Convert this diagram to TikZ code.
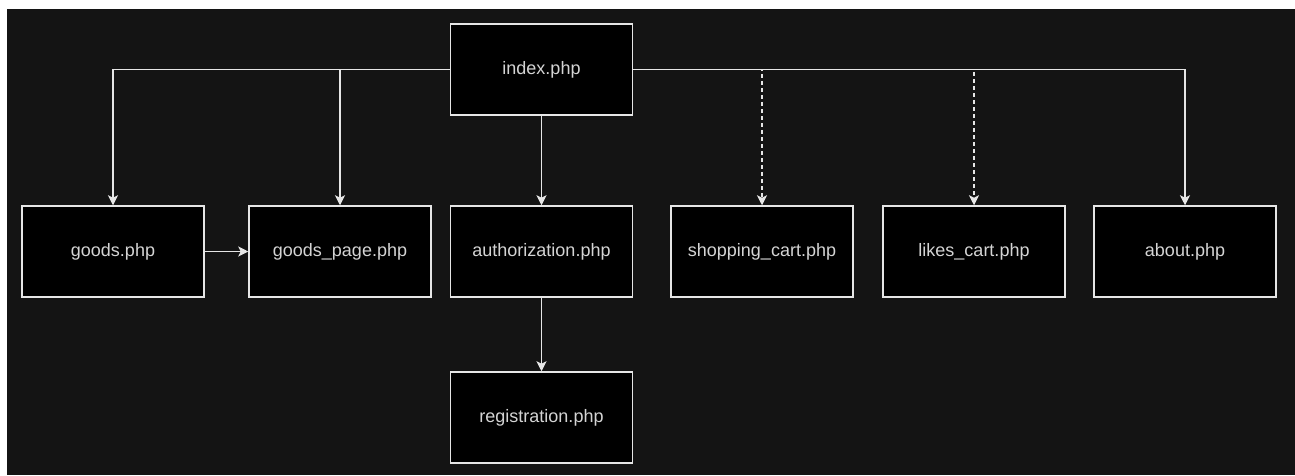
\documentclass[tikz,border=0pt]{standalone}
\usepackage{fontspec}
\setmainfont{Liberation Sans}
\usetikzlibrary{arrows.meta}
\definecolor{bg}{HTML}{141414}
\definecolor{edge}{HTML}{E6E6E6}
\definecolor{txt}{HTML}{D4D4D4}

\begin{document}
\begin{tikzpicture}[x=1pt,y=-1pt,line width=1.5pt,>={Stealth[length=10pt,width=10pt,inset=2.5pt]}]
  \def\w{182}
  \def\h{91}

\tikzstyle{page}=[rectangle,draw=edge,fill=black,text=txt,minimum width=\w pt,minimum height=\h pt,inner sep=0pt,font=\fontsize{18}{21}\selectfont]
\tikzstyle{link}=[->,draw=edge]
\tikzstyle{maybe}=[->,draw=edge,dash pattern=on 4pt off 3pt]

\useasboundingbox (0,0) rectangle (1295,475);
\fill[bg] (7,9) rectangle (1295,475);

\node[page] (index) at (541.5,69.5) {index.php};
\node[page] (goods) at (113,251.5) {goods.php};
\node[page] (goodspage) at (340,251.5) {goods\_page.php};
\node[page] (auth) at (541.5,251.5) {authorization.php};
\node[page] (shop) at (762,251.5) {shopping\_cart.php};
\node[page] (likes) at (974,251.5) {likes\_cart.php};
\node[page] (about) at (1185,251.5) {about.php};
\node[page] (reg) at (541.5,417.5) {registration.php};

\draw[link] (index.west) -| (goods);
\draw[link] (index.west) -| (goodspage);
\draw[link] (index) -- (auth);
\draw[maybe] (index.east) -| (shop);
\draw[maybe] (index.east) -| (likes);
\draw[link] (index.east) -| (about);
\draw[link] (goods) -- (goodspage);
\draw[link] (auth) -- (reg);
\end{tikzpicture}
\end{document}
